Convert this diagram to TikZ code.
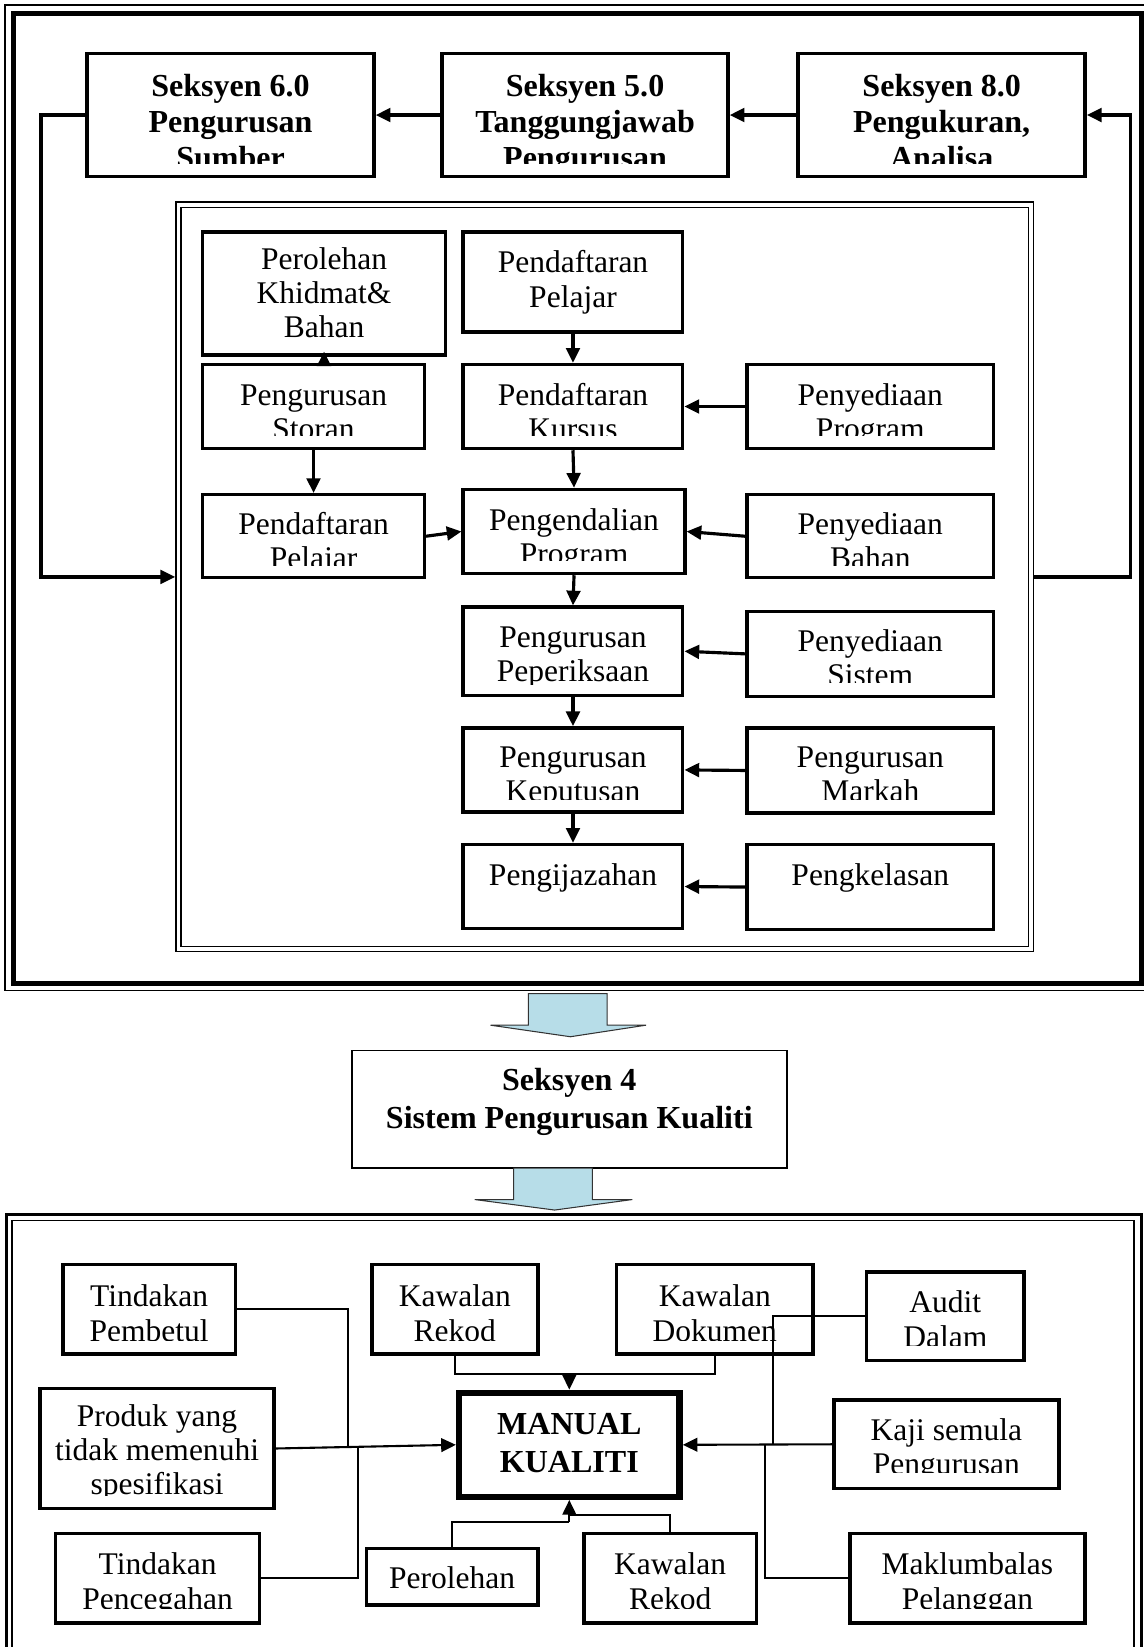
\documentclass[tikz,border=0pt]{standalone}
\usepackage{fontspec}
\setmainfont{Liberation Serif}
\usetikzlibrary{arrows.meta,fit}
\definecolor{arrblue}{RGB}{183,221,232}
\tikzset{
  box/.style={draw, line width=3.3pt, inner sep=0pt},
  box text/.style={font=\fontsize{30}{33}\selectfont, inner sep=0pt},
  hbox/.style={draw, line width=3.5pt, inner sep=0pt},
  hbox text/.style={font=\fontsize{30.5}{34}\selectfont\bfseries, inner sep=0pt},
  sbox/.style={draw, line width=1.5pt, inner sep=0pt},
  sbox text/.style={hbox text},
  mbox/.style={draw, line width=6pt, inner sep=0pt},
  mbox text/.style={hbox text},
  arr/.style={line width=3pt, -{Triangle[length=14pt,width=13pt]}},
  ln/.style={line width=2pt},
  arr2/.style={line width=2pt, -{Triangle[length=14pt,width=13pt]}},
  blockarrow/.style={fill=arrblue, draw=black!80, line width=1pt, line join=miter},
}
% #1 style, #2 name, #3 x1, #4 y1, #5 x2, #6 y2, #7 clip y, #8 baseline/text pairs
\newcommand\gbx[8]{%
  \node[#1, fit={(#3,#4)(#5,#6)}] (#2) {};
  \begin{scope}
    \clip (#3,#4) rectangle (#5,#7);
    \foreach \yy/\tx in {#8}
      \node[#1 text, anchor=base] at ({(#3+#5)/2},\yy) {\tx};
  \end{scope}}
\begin{document}
\begin{tikzpicture}[x=1pt,y=-1pt]
\path[use as bounding box, fill=white] (0,0) rectangle (1089,1568);
\clip (0,0) rectangle (1089,1568);

% ---------- top frame ----------
\draw[line width=1.8pt] (5,5) rectangle (1095,943);
\draw[line width=4.8pt] (12.5,12.5) rectangle (1087,936);

% top row
\gbx{hbox}{B6}{83}{51}{356}{168}{156}{92/Seksyen 6.0, 126/Pengurusan, 160/Sumber}
\gbx{hbox}{B5}{421}{51}{693}{168}{156}{92/Seksyen 5.0, 126/Tanggungjawab, 160/Pengurusan}
\gbx{hbox}{B8}{760}{51}{1033}{168}{156}{92/Seksyen 8.0, 126/{Pengukuran,}, 160/Analisa}

% inner double box
\node[draw, line width=1.5pt, inner sep=0pt, fit={(167.5,192.5)(984,906)}] (INo) {};
\draw[line width=1.5pt] (172.5,197.5) rectangle (979,901);

% inner boxes
\gbx{box}{PKB}{193}{221}{424}{338}{338}{257/Perolehan, 289/Khidmat\&, 321/Bahan}
\gbx{box}{PdP}{441}{221}{650}{316}{316}{259/Pendaftaran, 293/Pelajar}
\gbx{box}{PS}{193}{347}{404}{427}{415}{386/Pengurusan, 418.5/Storan}
\gbx{box}{PdK}{441}{347}{650}{427}{415}{386/Pendaftaran, 418.5/Kursus}
\gbx{box}{PyP}{711}{347}{946}{427}{415}{386/Penyediaan, 418.5/Program}
\gbx{box}{PP}{193}{471}{404}{550}{538}{509/Pendaftaran, 541.5/Pelajar}
\gbx{box}{PgP}{441}{466}{652}{546}{534}{505/Pengendalian, 537.5/Program}
\gbx{box}{PyB}{711}{471}{946}{550}{538}{509/Penyediaan, 541.5/Bahan}
\gbx{box}{PgPe}{441}{578}{650}{662}{652}{616/Pengurusan, 649/Peperiksaan}
\gbx{box}{PyS}{711}{582}{946}{663}{650}{620/Penyediaan, 652.5/Sistem}
\gbx{box}{PgK}{441}{693}{650}{773}{761}{731/Pengurusan, 763.5/Keputusan}
\gbx{box}{PgM}{711}{693}{946}{774}{761}{731/Pengurusan, 763.5/Markah}
\gbx{box}{Pij}{441}{804}{650}{884}{884}{843/Pengijazahan}
\gbx{box}{Pkl}{711}{804}{946}{885}{885}{843/Pengkelasan}

% top connectors
\draw[arr] (B5.west) -- (B6.east);
\draw[arr] (B8.west) -- (B5.east);
\coordinate (lc) at (39,109.5);
\draw[arr] (B6.west) -- (lc) |- (INo.west);
\coordinate (rc) at (1076,109.5);
\draw[arr] (INo.east) -| (rc) -- (B8.east);

% inner connectors
\draw[arr] (PS.north -| PKB.south) -- ([yshift=5pt]PKB.south);
\draw[arr] (PS.south) -- (PP.north);
\draw[arr] (PP.east) -- (PgP.west);
\draw[arr] (PdP.south) -- (PdK.north);
\draw[arr] (PdK.south) -- (PgP.north);
\draw[arr] (PgP.south) -- (PgPe.north);
\draw[arr] (PgPe.south) -- (PgK.north);
\draw[arr] (PgK.south) -- (Pij.north);
\draw[arr] (PyP.west) -- (PdK.east);
\draw[arr] (PyB.west) -- (PgP.east);
\draw[arr] (PyS.west) -- (PgPe.east);
\draw[arr] (PgM.west) -- (PgK.east);
\draw[arr] (Pkl.west) -- (Pij.east);

% ---------- middle ----------
\draw[blockarrow] (503,946) -- (578,946) -- (578,976) -- (615,976) -- (543,987) -- (467,976) -- (503,976) -- cycle;
\gbx{sbox}{S4}{335}{1000}{749}{1112}{1112}{1038/Seksyen 4, 1074/Sistem Pengurusan Kualiti}
\draw[blockarrow] (489,1112) -- (564,1112) -- (564,1142) -- (602,1142) -- (528,1152) -- (452,1142) -- (489,1142) -- cycle;

% ---------- bottom frame ----------
\draw[line width=3pt] (6,1156) rectangle (1087,1620);
\draw[line width=1.5pt] (11.5,1162) rectangle (1079.5,1620);

\gbx{box}{TP}{60}{1204}{224}{1289}{1276}{1244/Tindakan, 1277/Pembetul}
\gbx{box}{KR1}{354}{1204}{512}{1289}{1276}{1244/Kawalan, 1277/Rekod}
\gbx{box}{KD}{587}{1204}{774}{1289}{1276}{1244/Kawalan, 1277/Dokumen}
\gbx{box}{AD}{825}{1211}{975}{1295}{1281}{1250/Audit, 1283/Dalam}
\gbx{box}{PYT}{38}{1322}{261}{1436}{1424}{1358/Produk yang, 1390/tidak memenuhi, 1423/spesifikasi}
\gbx{mbox}{MK}{437}{1326}{647}{1425}{1425}{1366/MANUAL, 1402/KUALITI}
\gbx{box}{KSP}{794}{1333}{1008}{1417}{1402}{1371/Kaji semula, 1404/Pengurusan}
\gbx{box}{TPc}{53}{1460}{247}{1545}{1531}{1499/Tindakan, 1532/Pencegahan}
\gbx{box}{Per}{349}{1474}{512}{1528}{1528}{1512/Perolehan}
\gbx{box}{KR2}{556}{1460}{720}{1545}{1531}{1499/Kawalan, 1532/Rekod}
\gbx{box}{MP}{809}{1460}{1033}{1545}{1531}{1499/Maklumbalas, 1532/Pelanggan}

% bottom connectors
\draw[arr2] (PYT.east) -- (MK.west);
\coordinate (jL1) at (331,1377);
\coordinate (jL2) at (341,1377);
\draw[ln] (TP.east) -| (jL1);
\draw[ln] (TPc.east) -| (jL2);
\coordinate (jT) at (542,1308);
\draw[ln] (KR1.south) |- (jT);
\draw[ln] (KD.south) |- (jT);
\draw[arr2] (jT) -- (MK.north);
\coordinate (jB1) at (542,1449);
\coordinate (jB2) at (542,1442);
\draw[ln] (Per.north) |- (jB1);
\draw[ln] (KR2.north) |- (jB2);
\draw[arr2] (jB1) -- (MK.south);
\draw[arr2] (KSP.west) -- (MK.east);
\coordinate (jR1) at (736,1375);
\coordinate (jR2) at (728,1375);
\draw[ln] (AD.west) -| (jR1);
\draw[ln] (MP.west) -| (jR2);
\end{tikzpicture}
\end{document}
